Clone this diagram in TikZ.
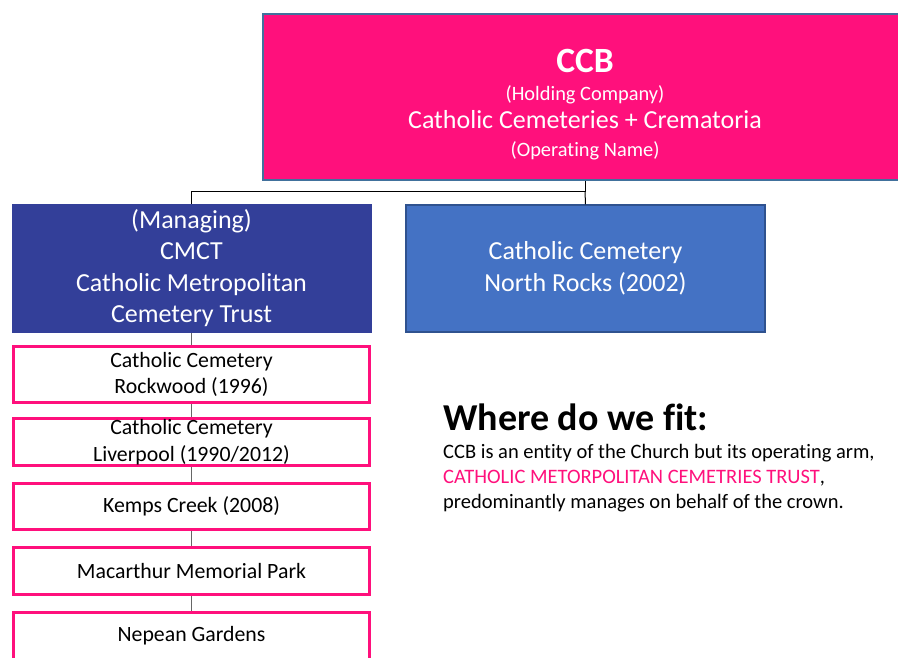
\documentclass[tikz,border=0pt]{standalone}
\usepackage{fontspec}
\setmainfont{Carlito}[Ligatures=NoCommon]
\usetikzlibrary{positioning,calc,backgrounds}
\definecolor{ccbpink}{RGB}{255,16,124}
\definecolor{cmctblue}{RGB}{51,63,153}
\definecolor{rocksblue}{RGB}{68,114,196}
\definecolor{rocksedge}{RGB}{47,82,143}
\definecolor{ccbedge}{RGB}{65,113,156}

\begin{document}
\begin{tikzpicture}[x=1pt, y=-1pt,
    topbox/.style={draw=ccbedge, line width=1.5pt, fill=ccbpink, inner sep=0pt},
    toptext/.style={text=white, align=center, inner sep=0pt, font=\fontsize{26}{28}\selectfont},
    trust/.style={draw=cmctblue, fill=cmctblue, text=white, align=center, inner sep=0pt,
      minimum width=359pt, minimum height=128pt, font=\fontsize{26}{31.5}\selectfont},
    site/.style={draw=ccbpink, line width=3pt, fill=white, align=center, inner sep=0pt,
      minimum width=356pt, font=\fontsize{21.8}{26.5}\selectfont},
    conn/.style={draw=black, line width=1pt},
    chain/.style={draw=black!60, line width=1.3pt},
    fitline/.style={anchor=base west, inner sep=0pt, font=\fontsize{20.5}{24}\selectfont}]

  \useasboundingbox (0,0) rectangle (898,657);
  \clip (0,0) rectangle (898,657);

  \node[topbox, minimum width=644pt, minimum height=166pt] (ccb) at (585,97) {};
  \node[toptext] (ccblabel) at ($(ccb.center)+(0,8)$)
    {{\fontsize{35.5}{28}\selectfont\bfseries CCB}\\
     {\fontsize{20.4}{28}\selectfont (Holding Company)}\\
     Catholic Cemeteries + Crematoria\\
     {\fontsize{20.4}{28}\selectfont (Operating Name)}};

  \node[trust] (cmct) at (191.5,268)
    {(Managing)\\CMCT\\Catholic Metropolitan\\Cemetery Trust};
  \node[trust, draw=rocksedge, line width=1.5pt, fill=rocksblue, minimum height=127pt] (rocks) at (585.5,268.5)
    {Catholic Cemetery\\North Rocks (2002)};

  \node[site, minimum height=56pt] (rockwood) at (191.5,374.5) {Catholic Cemetery\\Rockwood (1996)};
  \node[site, minimum height=47pt] (liverpool) at (191.5,442) {Catholic Cemetery\\Liverpool (1990/2012)};
  \node[site, minimum height=46pt] (kemps) at (191.5,506.5) {Kemps Creek (2008)};
  \node[site, minimum height=47pt] (macarthur) at (191.5,571) {Macarthur Memorial Park};
  \node[site, minimum height=47pt] (nepean) at (191.5,636) {Nepean Gardens};

  \coordinate (split) at (585,191);
  \draw[conn] (ccb.south) -- (split) -| (cmct.north);
  \draw[conn] (split) -- (rocks.north);

  \begin{scope}[on background layer]
    \draw[chain] (cmct.south) -- (nepean.north);
  \end{scope}

  \node[anchor=base west, inner sep=0pt, font=\fontsize{38}{42}\selectfont\bfseries] (fit) at (443,430) {Where do we fit:};
  \node[fitline] (fit1) at (443,458) {CCB is an entity of the Church but its operating arm,};
  \node[fitline] (fit2) at (443,483) {\textcolor{ccbpink}{CATHOLIC METORPOLITAN CEMETRIES TRUST},};
  \node[fitline] (fit3) at (443,508) {predominantly manages on behalf of the crown.};
\end{tikzpicture}
\end{document}
